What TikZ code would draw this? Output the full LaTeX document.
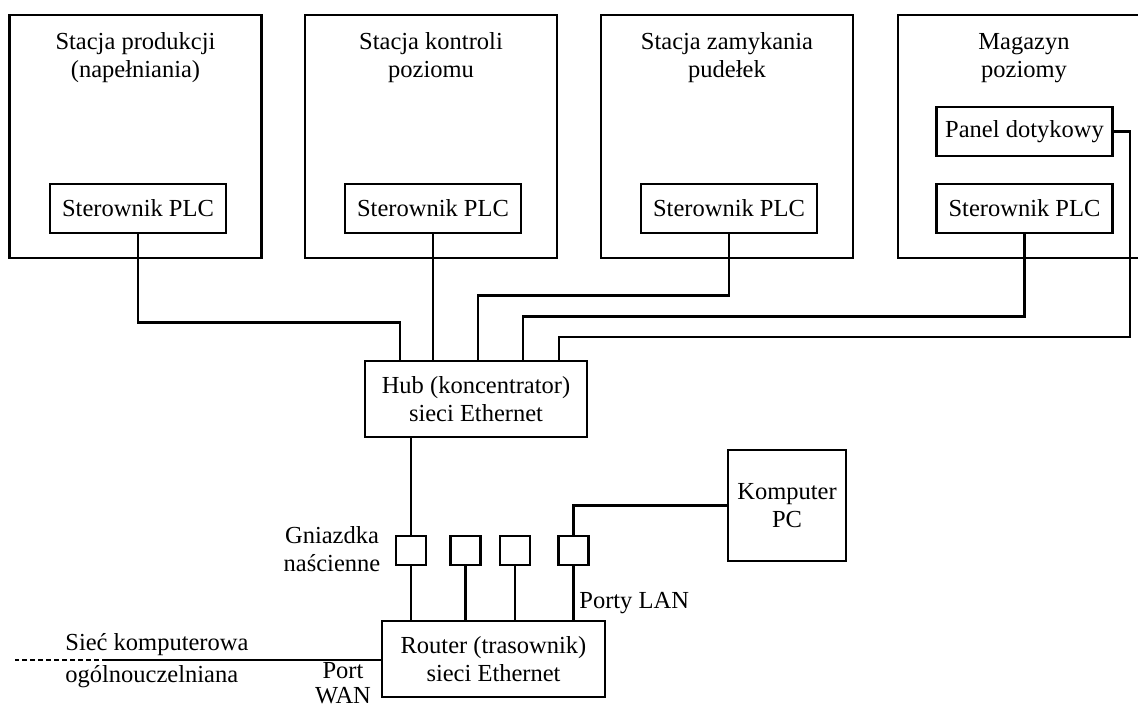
\documentclass[tikz,border=0pt]{standalone}
\usepackage{fontspec}
\setmainfont{Liberation Serif}
\usetikzlibrary{positioning}

\begin{document}
\begin{tikzpicture}[x=1pt, y=-1pt, line width=2.8pt,
  every node/.style={font=\fontsize{24.5}{28}\selectfont},
  station/.style={draw, minimum width=252pt, minimum height=243pt, inner sep=0pt},
  ttl/.style={align=center, inner sep=0pt},
  unit/.style={draw, minimum width=176pt, minimum height=49pt, inner sep=0pt},
  net/.style={draw, align=center, minimum width=223pt, minimum height=76pt, inner sep=0pt},
  socket/.style={draw, minimum width=30pt, minimum height=29pt, inner sep=0pt},
  lbl/.style={align=center, inner sep=0pt}]
\useasboundingbox (0,0) rectangle (1138,709);
\clip (0,0) rectangle (1138,709);

% stacje
\node[station] (st1) at (135.5,136.5) {};
\node[station] (st2) at (431,136.5) {};
\node[station] (st3) at (727,136.5) {};
\node[station] (st4) at (1024,136.5) {};
\node[ttl, below=18pt of st1.north] (t1) {Stacja produkcji\\(napełniania)};
\node[ttl, below=18pt of st2.north] (t2) {Stacja kontroli\\poziomu};
\node[ttl, below=18pt of st3.north] (t3) {Stacja zamykania\\pudełek};
\node[ttl, below=18pt of st4.north] (t4) {Magazyn\\poziomy};
\node[unit] (plc1) at (138,208.5) {Sterownik PLC};
\node[unit] (plc2) at (433,208.5) {Sterownik PLC};
\node[unit] (plc3) at (729,208.5) {Sterownik PLC};
\node[unit] (plc4) at (1024.5,208.5) {Sterownik PLC};
\node[unit] (panel) at (1024.5,131.5) {Panel dotykowy};

% siec
\node[net, minimum width=222pt] (hub) at (476,399) {Hub (koncentrator)\\sieci Ethernet};
\node[net] (router) at (493.5,659) {Router (trasownik)\\sieci Ethernet};
\node[socket] (s1) at (411,550.5) {};
\node[socket] (s2) at (465.5,550.5) {};
\node[socket] (s3) at (515,550.5) {};
\node[socket] (s4) at (573.5,550.5) {};
\node[draw, align=center, minimum width=118pt, minimum height=111pt, inner sep=0pt] (pc) at (787,505.5) {Komputer\\PC};
\coordinate (wan) at (107,660);
\coordinate (wanend) at (15,660);

% opisy
\node[lbl] (gn) at (332,549) {Gniazdka\\naścienne};
\node[lbl, anchor=west] (lan) at (578,603) {Porty LAN};
\node[lbl, align=left, anchor=west, font=\fontsize{24.5}{32}\selectfont] (siec) at (64,661) {Sieć komputerowa\\ogólnouczelniana};
\node[lbl, font=\fontsize{24.5}{25}\selectfont] (wanlbl) at (343,683) {Port\\WAN};

% polaczenia
\draw (plc1.south) -- ++(0,88) -| ([xshift=-76pt]hub.north);
\draw (plc2.south) -- (plc2.south |- hub.north);
\draw (plc3.south) -- ++(0,61) -| ([xshift=2pt]hub.north);
\draw (plc4.south) -- ++(0,82) -| ([xshift=47pt]hub.north);
\draw (panel.east) -- ++(16,0) -- ++(0,205.5) -| ([xshift=83pt]hub.north);
\draw (hub.south -| s1.north) -- (s1.north);
\foreach \s in {s1,s2,s3,s4} \draw (\s.south) -- (\s.south |- router.north);
\draw (s4.north) |- (pc.west);
\draw (router.west |- wan) -- (wan);
\draw[dash pattern=on 5pt off 3pt] (wan) -- (wanend);
\end{tikzpicture}
\end{document}
